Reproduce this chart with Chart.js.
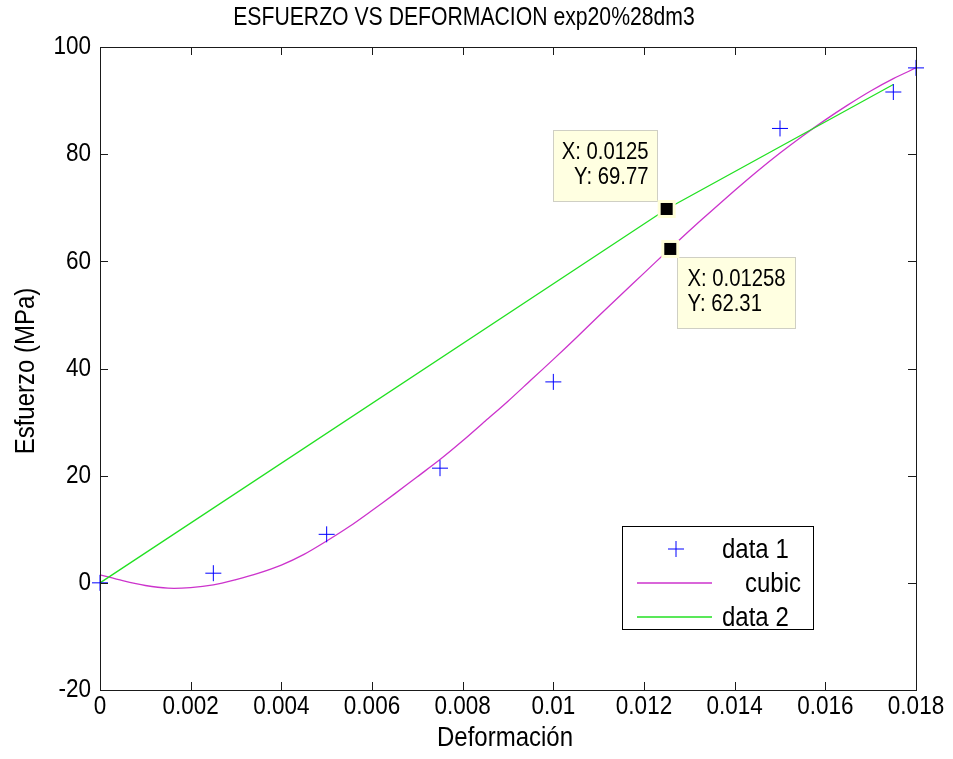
<!DOCTYPE html>
<html>
<head>
<meta charset="utf-8">
<title>Esfuerzo vs deformación</title>
<script src="https://cdn.jsdelivr.net/npm/chart.js@4/dist/chart.umd.min.js"></script>
<style>
  body { margin: 0; background: #fff; }
  canvas { display: block; }
</style>
</head>
<body>
<canvas id="chart" width="953" height="759"></canvas>
<script>
// Measured points of exp20%28dm3 (deformación, esfuerzo en MPa)
const strainData1 = [0, 0.0025, 0.005, 0.0075, 0.01, 0.015, 0.0175, 0.018];
const stressData1 = [0, 1.8, 9.05, 21.4, 37.5, 84.8, 91.6, 96.1];

// Cubic fit curve, sampled every 0.0005
const strainCubic = [0, 0.0005, 0.001, 0.0015, 0.002, 0.0025, 0.003, 0.0035, 0.004, 0.0045,
  0.005, 0.0055, 0.006, 0.0065, 0.007, 0.0075, 0.008, 0.0085, 0.009, 0.0095,
  0.01, 0.0105, 0.011, 0.0115, 0.012, 0.0125, 0.013, 0.0135, 0.014, 0.0145,
  0.015, 0.0155, 0.016, 0.0165, 0.017, 0.0175, 0.018];
const stressCubic = [1.5, 0.4, -0.5, -1.0, -0.9, -0.4, 0.6, 1.8, 3.3, 5.3,
  7.8, 10.5, 13.5, 16.6, 19.8, 23.0, 26.5, 30.2, 33.9, 37.8,
  41.7, 45.7, 49.8, 53.8, 57.8, 61.8, 65.7, 69.5, 73.2, 76.8,
  80.2, 83.4, 86.4, 89.2, 91.8, 94.1, 96.1];

// data 2 polyline
const strainData2 = [0, 0.0125, 0.0175];
const stressData2 = [0, 69.77, 93.0];

// Axis ticks and labels
const xTicks = [0, 0.002, 0.004, 0.006, 0.008, 0.01, 0.012, 0.014, 0.016, 0.018];
const yTicks = [-20, 0, 20, 40, 60, 80, 100];
const titleText = 'ESFUERZO VS DEFORMACION exp20%28dm3';
const xTitle = 'Deformación';
const yTitle = 'Esfuerzo (MPa)';

// Data cursors shown on the plot
const tipX = [0.0125, 0.01258];
const tipY = [69.77, 62.31];
const tipText = [['X: 0.0125', 'Y: 69.77'], ['X: 0.01258', 'Y: 62.31']];

const FONT = '"Liberation Sans", Arial, Helvetica, sans-serif';
// glyphs are a bit taller than plain Arial
const STRETCH = 1.18;

function toPoints(xs, ys) {
    return xs.map((x, i) => ({ x: x, y: ys[i] }));
}

function fmtTick(v) {
    return String(Number(v.toFixed(6)));
}

function drawText(ctx, text, x, y, size, align, angle) {
    ctx.save();
    ctx.translate(x, y);
    if (angle) ctx.rotate(angle);
    ctx.scale(1, STRETCH);
    ctx.font = size + 'px ' + FONT;
    ctx.fillStyle = '#000';
    ctx.textAlign = align;
    ctx.textBaseline = 'middle';
    ctx.fillText(text, 0, 0);
    ctx.restore();
}

/*
    Box around the axes with inward tick marks on all four sides
*/
const axesBox = {
    id: 'axesBox',
    afterDatasetsDraw(chart) {
        const ctx = chart.ctx;
        const a = chart.chartArea;
        const sx = chart.scales.x, sy = chart.scales.y;
        const len = 8;
        ctx.save();
        ctx.strokeStyle = '#1a1a1a';
        ctx.lineWidth = 1;
        ctx.beginPath();
        xTicks.forEach(v => {
            const px = Math.round(sx.getPixelForValue(v)) + 0.5;
            ctx.moveTo(px, a.bottom); ctx.lineTo(px, a.bottom - len);
            ctx.moveTo(px, a.top); ctx.lineTo(px, a.top + len);
        });
        yTicks.forEach(v => {
            const py = Math.round(sy.getPixelForValue(v)) + 0.5;
            ctx.moveTo(a.left, py); ctx.lineTo(a.left + len, py);
            ctx.moveTo(a.right, py); ctx.lineTo(a.right - len, py);
        });
        ctx.stroke();
        ctx.strokeRect(Math.round(a.left) + 0.5, Math.round(a.top) + 0.5,
            Math.round(a.right - a.left), Math.round(a.bottom - a.top));
        ctx.restore();
    }
};

/*
    Title, tick labels and axis titles
*/
const axesText = {
    id: 'axesText',
    afterDraw(chart) {
        const ctx = chart.ctx;
        const a = chart.chartArea;
        const sx = chart.scales.x, sy = chart.scales.y;
        xTicks.forEach(v => {
            drawText(ctx, fmtTick(v), sx.getPixelForValue(v), a.bottom + 17, 22.5, 'center');
        });
        yTicks.forEach(v => {
            drawText(ctx, fmtTick(v), a.left - 9, sy.getPixelForValue(v), 22.5, 'right');
        });
        drawText(ctx, titleText, 464, 18, 21.2, 'center');
        drawText(ctx, xTitle, 505, 738, 24, 'center');
        drawText(ctx, yTitle, 26, 371, 24, 'center', -Math.PI / 2);
    }
};

/*
    Data tips: marker square plus yellow label box
*/
const dataTips = {
    id: 'dataTips',
    afterDraw(chart) {
        const ctx = chart.ctx;
        const sx = chart.scales.x, sy = chart.scales.y;
        // box offsets from the marker: [dx, dy, width, height, align]
        const boxes = [[-114, -79, 104, 71, 'right'], [7, 8, 118, 71, 'left']];
        ctx.save();
        tipX.forEach((v, i) => {
            const px = sx.getPixelForValue(v);
            const py = sy.getPixelForValue(tipY[i]);
            const b = boxes[i];
            const bx = Math.round(px + b[0]) + 0.5, by = Math.round(py + b[1]) + 0.5;
            ctx.fillStyle = '#ffffe1';
            ctx.fillRect(bx, by, b[2], b[3]);
            ctx.strokeStyle = '#cfcfc4';
            ctx.lineWidth = 1;
            ctx.strokeRect(bx, by, b[2], b[3]);
            const tx = b[4] === 'right' ? bx + b[2] - 9 : bx + 10;
            drawText(ctx, tipText[i][0], tx, by + 22, 20.3, b[4]);
            drawText(ctx, tipText[i][1], tx, by + 47, 20.3, b[4]);

            ctx.fillStyle = '#ffffd8';
            ctx.fillRect(px - 9, py - 9, 18, 18);
            ctx.fillStyle = '#000';
            ctx.fillRect(px - 6, py - 6, 12, 12);
        });
        ctx.restore();
    }
};

/*
    Legend box in the lower right of the axes
*/
const boxLegend = {
    id: 'boxLegend',
    afterDraw(chart) {
        const ctx = chart.ctx;
        const left = 622, top = 526, w = 191, h = 103;
        const rows = [549, 583, 617];
        const textX = [722, 745, 722];
        ctx.save();
        ctx.fillStyle = '#fff';
        ctx.fillRect(left, top, w, h);
        ctx.strokeStyle = '#000';
        ctx.lineWidth = 1;
        ctx.strokeRect(left + 0.5, top + 0.5, w, h);
        chart.data.datasets.forEach((ds, i) => {
            const y = rows[i];
            ctx.strokeStyle = ds.borderColor;
            ctx.lineWidth = ds.borderWidth;
            ctx.beginPath();
            if (ds.showLine === false) {
                ctx.moveTo(668, y); ctx.lineTo(684, y);
                ctx.moveTo(676, y - 8); ctx.lineTo(676, y + 8);
            } else {
                ctx.moveTo(637, y); ctx.lineTo(712, y);
            }
            ctx.stroke();
            drawText(ctx, ds.label, textX[i], y + 1, 24, 'left');
        });
        ctx.restore();
    }
};

const whiteBackground = {
    id: 'whiteBackground',
    beforeDraw(chart) {
        const ctx = chart.ctx;
        ctx.save();
        ctx.fillStyle = '#fff';
        ctx.fillRect(0, 0, chart.width, chart.height);
        ctx.restore();
    }
};

new Chart(document.getElementById('chart').getContext('2d'), {
    type: 'scatter',
    data: {
        datasets: [
            {
                label: 'data 1',
                data: toPoints(strainData1, stressData1),
                showLine: false,
                pointStyle: 'cross',
                pointRadius: 8,
                pointBorderWidth: 1,
                borderColor: '#0000ff',
                backgroundColor: '#0000ff',
                borderWidth: 1,
                clip: false,
                order: 0
            },
            {
                label: 'cubic',
                data: toPoints(strainCubic, stressCubic),
                showLine: true,
                borderColor: '#cc33cc',
                borderWidth: 1.3,
                pointRadius: 0,
                tension: 0.3,
                order: 2
            },
            {
                label: 'data 2',
                data: toPoints(strainData2, stressData2),
                showLine: true,
                borderColor: '#22e022',
                borderWidth: 1.3,
                pointRadius: 0,
                tension: 0,
                order: 1
            }
        ]
    },
    options: {
        responsive: false,
        animation: false,
        layout: { padding: { left: 0, right: 37, top: 47, bottom: 0 } },
        plugins: {
            legend: { display: false },
            tooltip: { enabled: false },
            title: { display: false }
        },
        scales: {
            x: {
                type: 'linear',
                min: 0,
                max: 0.018,
                afterBuildTicks: s => { s.ticks = xTicks.map(v => ({ value: v })); },
                afterFit: s => { s.height = 69; },
                grid: { display: false, drawTicks: false },
                border: { display: false },
                ticks: { display: false }
            },
            y: {
                type: 'linear',
                min: -20,
                max: 100,
                afterBuildTicks: s => { s.ticks = yTicks.map(v => ({ value: v })); },
                afterFit: s => { s.width = 100; },
                grid: { display: false, drawTicks: false },
                border: { display: false },
                ticks: { display: false }
            }
        }
    },
    plugins: [whiteBackground, axesBox, axesText, dataTips, boxLegend]
});
</script>
</body>
</html>
